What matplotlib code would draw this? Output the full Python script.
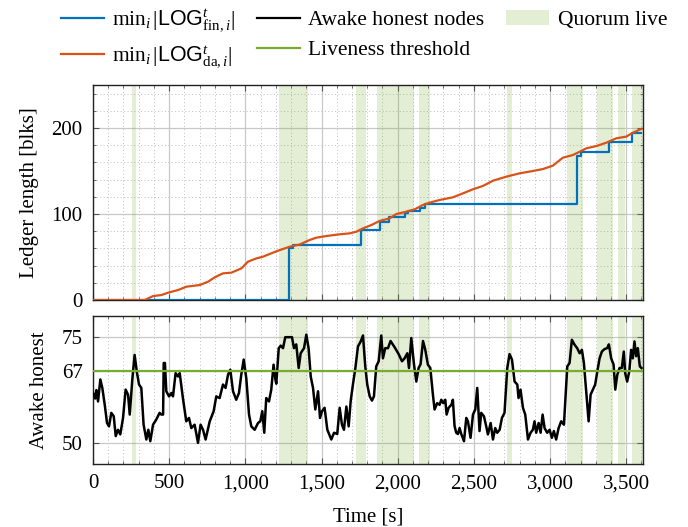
import matplotlib
matplotlib.use("Agg")
import matplotlib.pyplot as plt
from matplotlib.ticker import MultipleLocator, FuncFormatter, FixedLocator
from matplotlib.patches import Patch
from matplotlib.lines import Line2D

plt.rcParams['font.family'] = ['Liberation Serif', 'DejaVu Serif']
plt.rcParams['mathtext.fontset'] = 'custom'
plt.rcParams['mathtext.rm'] = 'Liberation Serif'
plt.rcParams['mathtext.it'] = 'Liberation Serif:italic'
plt.rcParams['mathtext.bf'] = 'Liberation Serif:bold'
plt.rcParams['mathtext.sf'] = 'Liberation Sans'
plt.rcParams['font.size'] = 15

# ---- data ----
fin_t = [0, 1284, 1310, 1757, 1881, 1942, 2045, 2067, 2143, 2176, 3176, 3200, 3386, 3539, 3600]
fin_v = [0, 60, 64, 81, 91, 97, 101, 103, 107, 112, 168, 172, 184, 194, 194]

da_t = [0, 340, 394, 449, 492, 558, 613, 700, 755, 799, 853, 908, 974, 1017, 1072, 1116,
        1170, 1225, 1291, 1356, 1422, 1466, 1531, 1619, 1684, 1728, 1772, 1827, 1881, 1947,
        1991, 2056, 2111, 2165, 2209, 2275, 2362, 2428, 2493, 2559, 2625, 2712, 2800, 2887,
        2953, 3018, 3084, 3150, 3194, 3238, 3303, 3369, 3434, 3500, 3543, 3600]
da_v = [0, 0, 4.6, 5.8, 8.5, 11.6, 15.5, 17.4, 21.3, 26.4, 31, 31.8, 36.8, 44.6, 48.4, 50.4,
        54.3, 58, 62, 64.5, 69.8, 72.5, 74.4, 76.4, 77.5, 79.4, 83.3, 87.2, 91.9, 95,
        100, 102.7, 105.4, 110.5, 113.2, 116.3, 119.4, 124, 128.7, 132.6, 138.7, 143.4, 147.3, 150,
        152.3, 156.2, 165.5, 168.6, 172.4, 176.4, 179, 182.9, 188, 190, 194.5, 199]

awake_t = [0, 14, 22, 33, 48, 61, 77, 92, 105, 120, 136, 149, 164, 179, 197, 214, 230, 241,
           258, 273, 289, 302, 317, 332, 350, 363, 376, 394, 415, 437, 448, 460, 464, 472, 481,
           499, 514, 525, 542, 558, 569, 590, 612, 630, 645, 667, 689, 706, 722, 739, 766, 792,
           809, 831, 853, 870, 886, 901, 919, 940, 958, 973, 989, 1006, 1024, 1039, 1061, 1083,
           1098, 1111, 1124, 1137, 1155, 1170, 1185, 1197, 1203, 1219, 1232, 1247, 1262, 1306,
           1319, 1334, 1350, 1363, 1385, 1400, 1415, 1429, 1444, 1459, 1477, 1490, 1503, 1520,
           1538, 1564, 1582, 1603, 1619, 1634, 1647, 1663, 1678, 1691, 1706, 1722, 1739, 1757,
           1772, 1787, 1800, 1816, 1831, 1844, 1859, 1875, 1892, 1903, 1918, 1936, 1953, 1980,
           2006, 2028, 2045, 2063, 2074, 2089, 2107, 2122, 2137, 2150, 2166, 2181, 2198, 2214,
           2231, 2242, 2259, 2275, 2286, 2299, 2312, 2321, 2334, 2352, 2362, 2373, 2384, 2395,
           2406, 2417, 2435, 2450, 2461, 2478, 2494, 2509, 2522, 2537, 2548, 2566, 2581, 2592,
           2610, 2625, 2640, 2653, 2669, 2684, 2701, 2719, 2734, 2750, 2767, 2785, 2793, 2806,
           2822, 2837, 2855, 2872, 2887, 2898, 2909, 2925, 2938, 2951, 2964, 2981, 2997, 3012,
           3025, 3040, 3056, 3073, 3091, 3113, 3128, 3143, 3161, 3178, 3194, 3209, 3222, 3237,
           3253, 3266, 3281, 3296, 3310, 3325, 3340, 3358, 3375, 3386, 3401, 3417, 3428, 3441,
           3456, 3471, 3484, 3493, 3506, 3520, 3532, 3543, 3554, 3565, 3576, 3589, 3600]
awake_v = [61.8, 60.5, 62.5, 59.8, 65, 63, 59, 54.7, 53.9, 57.1, 56.3, 51.6, 53.1, 52, 55.9, 62.6, 61.4, 56.7,
           65, 70.8, 66.5, 63.8, 63, 54.3, 50.8, 53.1, 50.4, 54.3, 55.5, 57.1, 56.7, 56.7, 68.9, 68.9, 62.2,
           61, 61.8, 61, 66.5, 65.7, 66.5, 60.6, 55.1, 55.9, 53.5, 54.3, 50, 54.3, 53.1, 50.8, 55.1, 57.5,
           61, 60.6, 63.8, 63, 66.1, 67.3, 62.2, 60.2, 61.8, 66.1, 69.7, 65.3, 56.7, 53.9, 53.1, 54.7,
           55.1, 57.5, 52.4, 60.6, 59.8, 62.6, 68.5, 65, 64, 72.4, 73, 72.4, 75, 75,
           72.4, 73.3, 67.7, 71.2, 72.4, 75.6, 72.4, 65.7, 63, 57.9, 62.2, 55.9, 57.5, 58.3,
           53.1, 50.8, 52.4, 52.1, 58.3, 54.3, 53.1, 58.6, 53.9, 59.8, 63.8, 67.7, 72.8, 74,
           75.4, 68.1, 63.8, 61, 60, 61, 68.1, 69.3, 75.4, 70, 72.4, 72.4, 74.1, 72.6,
           71, 69.3, 70, 71.2, 67.7, 74.8, 68.5, 64.5, 67.7, 68.6, 74.1, 72, 68.5, 67.7,
           61.4, 57.9, 59.4, 59, 60.2, 59.4, 60.2, 56.7, 58.3, 59, 60.2, 54, 52.4, 52.1,
           53.5, 52.1, 50.4, 55.9, 55.1, 51.2, 56.7, 57.9, 63, 52.8, 57.1, 56.3, 53.9, 52,
           54.7, 50.8, 53.5, 52.4, 53.1, 55.9, 57.1, 67.7, 71, 69.7, 64.5, 63.8, 60.6, 62.6,
           58.3, 56.7, 50.8, 52.4, 53.1, 55.1, 52.4, 54.7, 52.4, 56.7, 53.5, 52.4, 53.1, 51.2,
           52.8, 50.8, 53.5, 55.1, 54.3, 68.1, 68.9, 74.4, 73.2, 72.4, 71.2, 72, 68.9, 62.2,
           55.1, 61.4, 62.6, 63.8, 66.9, 70, 71.6, 72.2, 72.4, 73.3, 70, 68.5, 62.6, 66.1,
           67.7, 67.7, 71.6, 66.5, 64.5, 66.9, 72, 70, 74, 70.5, 72.4, 68.1, 67.7]

liveness_threshold = 67

quorum_start = [256, 1221, 1725, 1865, 2139, 2719, 3112, 3307, 3445, 3535]
quorum_end = [285, 1411, 1790, 2105, 2209, 2752, 3215, 3412, 3493, 3610]

top_yticks = [0, 100, 200]
bot_yticks = [50, 67, 75]
xticks = [0, 500, 1000, 1500, 2000, 2500, 3000, 3500]

# ---- styles ----
c_fin = '#0072BD'
c_da = '#D95319'
c_thr = '#77AC30'
c_q = '#77AC30'
q_alpha = 0.2

fig = plt.figure(figsize=(6.88, 5.27), dpi=100)
ax1 = fig.add_axes([0.1352, 0.4307, 0.7994, 0.408])
ax2 = fig.add_axes([0.1352, 0.1195, 0.7994, 0.2808])

xfmt = FuncFormatter(lambda v, p: f"{int(round(v)):,}")

for ax in (ax1, ax2):
    ax.set_axisbelow(True)
    for s, e in zip(quorum_start, quorum_end):
        ax.axvspan(s, e, color=c_q, alpha=q_alpha, lw=0, zorder=1)
    ax.set_xlim(0, 3610)
    ax.xaxis.set_major_locator(FixedLocator(xticks))
    ax.xaxis.set_minor_locator(MultipleLocator(100))
    ax.grid(which='major', color='#c8c8c8', lw=0.9, ls='-')
    ax.tick_params(which='both', direction='in', top=True, right=True,
                   color='#555555', labelsize=15, pad=7.5)
    ax.tick_params(which='major', length=4, width=0.8)
    ax.tick_params(which='minor', length=2.5, width=0.6)
    for sp in ax.spines.values():
        sp.set_linewidth(1.0)
        sp.set_color('#222222')

ax1.grid(which='minor', color='#bdbdbd', lw=0.7, ls=(0, (1, 2.5)))
ax2.grid(which='minor', axis='x', color='#bdbdbd', lw=0.7, ls=(0, (1, 2.5)))

ax1.plot(fin_t, fin_v, drawstyle='steps-post', color=c_fin, lw=1.6, zorder=3)
ax1.plot(da_t, da_v, color=c_da, lw=1.6, zorder=4)
ax1.set_ylim(0, 250)
ax1.yaxis.set_major_locator(FixedLocator(top_yticks))
ax1.yaxis.set_minor_locator(MultipleLocator(20))
ax1.set_xticklabels([])
ax1.set_ylabel('Ledger length [blks]', fontsize=15, labelpad=9)

ax2.plot(awake_t, awake_v, color='black', lw=1.8, zorder=3)
ax2.axhline(liveness_threshold, color=c_thr, lw=1.6, zorder=4)
ax2.set_ylim(45, 80)
ax2.yaxis.set_major_locator(FixedLocator(bot_yticks))
ax2.yaxis.set_minor_locator(FixedLocator([]))
ax2.xaxis.set_major_formatter(xfmt)
ax2.set_ylabel('Awake honest', fontsize=15, labelpad=9)
ax2.set_xlabel('Time [s]', fontsize=15, labelpad=10)

handles = [
    Line2D([], [], color=c_fin, lw=1.6),
    Line2D([], [], color=c_da, lw=1.6),
    Line2D([], [], color='black', lw=1.6),
    Line2D([], [], color=c_thr, lw=1.6),
    Patch(facecolor=c_q, alpha=q_alpha, lw=0),
]
labels = [
    r'$\mathrm{min}_i\,|\mathsf{LOG}^t_{\mathrm{fin},i}|$',
    r'$\mathrm{min}_i\,|\mathsf{LOG}^t_{\mathrm{da},i}|$',
    'Awake honest nodes',
    'Liveness threshold',
    'Quorum live',
]
fig.legend(handles, labels, ncol=3, loc='upper center', bbox_to_anchor=(0.529, 1.022),
           frameon=False, fontsize=15.5, handlelength=2.0, handletextpad=0.4,
           columnspacing=1.0, labelspacing=0.45)

fig.savefig('out.png', dpi=100)
